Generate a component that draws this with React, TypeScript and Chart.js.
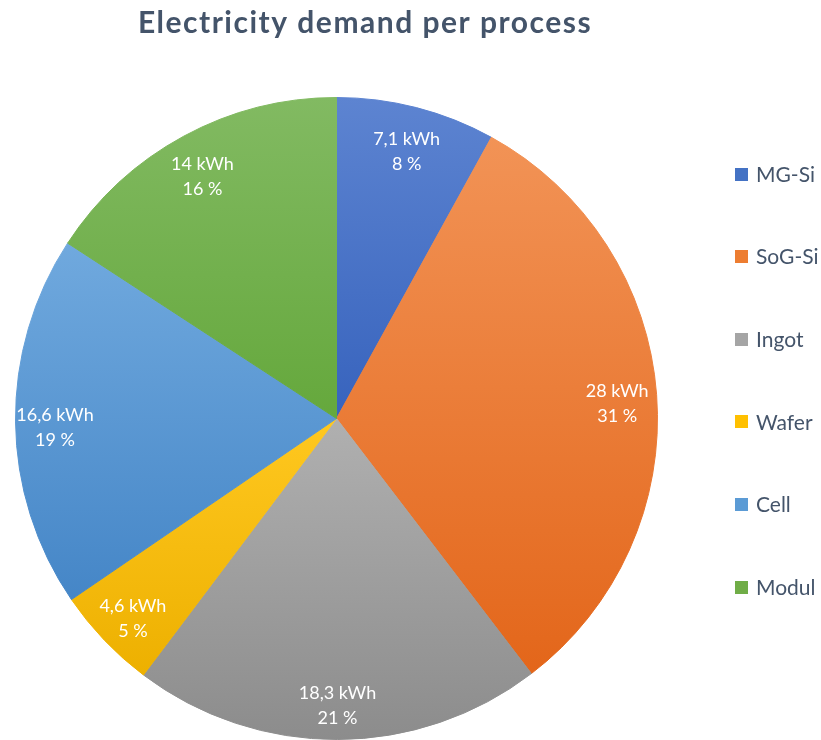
import React, { useEffect, useRef } from "react";
import { Chart, registerables } from "chart.js";

Chart.register(...registerables);

const TITLE = "Electricity demand per process";
const categories = ["MG-Si", "SoG-Si", "Ingot", "Wafer", "Cell", "Modul"];
const energyKWh = [7.1, 28, 18.3, 4.6, 16.6, 14];
const percentShares = [8, 31, 21, 5, 19, 16];

const baseColors = ["#4472C4", "#ED7D31", "#A5A5A5", "#FFC000", "#5B9BD5", "#70AD47"];
const topColors = ["#5D84D1", "#F29356", "#B0B0B0", "#FFC820", "#70A9DE", "#82BA62"];
const bottomColors = ["#3763BD", "#E3661A", "#8C8C8C", "#EDB000", "#4586C7", "#65A83C"];

const TEXT_COLOR = "#44546A";
const FONT = "Lato, 'Open Sans', 'DejaVu Sans', sans-serif";

const fmtKWh = (v: number) => String(v).replace(".", ",") + " kWh";

function sliceGradient(ctx: any) {
  const i = ctx.dataIndex;
  if (i === undefined || i === null) return baseColors[0];
  const chart = ctx.chart;
  const area = chart.chartArea;
  if (!area) return baseColors[i];
  const cx = (area.left + area.right) / 2;
  const cy = (area.top + area.bottom) / 2;
  const r = Math.min(area.width, area.height) / 2;
  const total = energyKWh.reduce((a, b) => a + b, 0);
  let before = 0;
  for (let j = 0; j < i; j++) before += energyKWh[j];
  const a0 = -Math.PI / 2 + (2 * Math.PI * before) / total;
  const a1 = a0 + (2 * Math.PI * energyKWh[i]) / total;
  const ys = [cy, cy + r * Math.sin(a0), cy + r * Math.sin(a1)];
  for (let k = -1; k <= 2; k++) {
    const t = -Math.PI / 2 + 2 * Math.PI * k;
    if (t >= a0 && t <= a1) ys.push(cy - r);
    const b = Math.PI / 2 + 2 * Math.PI * k;
    if (b >= a0 && b <= a1) ys.push(cy + r);
  }
  const y0 = Math.min(...ys);
  const y1 = Math.max(...ys);
  const g = chart.ctx.createLinearGradient(0, y0, 0, y1 + 0.01);
  g.addColorStop(0, topColors[i]);
  g.addColorStop(1, bottomColors[i]);
  return g;
}

const overlayPlugin = {
  id: "overlay",
  afterDatasetsDraw(chart: any) {
    const ctx = chart.ctx;
    const meta = chart.getDatasetMeta(0);
    ctx.save();
    ctx.fillStyle = "#FFFFFF";
    ctx.font = `18px ${FONT}`;
    ctx.textAlign = "center";
    ctx.textBaseline = "middle";
    meta.data.forEach((arc: any, i: number) => {
      const p = arc.getProps(["x", "y", "startAngle", "endAngle", "outerRadius"], true);
      const mid = (p.startAngle + p.endAngle) / 2;
      const l1 = fmtKWh(energyKWh[i]);
      const l2 = percentShares[i] + " %";
      const d = p.outerRadius * 0.877;
      const x = p.x + Math.cos(mid) * d;
      const y = p.y + Math.sin(mid) * d + 6;
      ctx.fillText(l1, x, y - 12.5);
      ctx.fillText(l2, x, y + 12.5);
    });
    ctx.restore();
  },
  afterDraw(chart: any) {
    const ctx = chart.ctx;
    ctx.save();
    // title
    ctx.fillStyle = TEXT_COLOR;
    ctx.font = `bold 30px ${FONT}`;
    try { (ctx as any).letterSpacing = "1.5px"; } catch (e) {}
    ctx.textAlign = "center";
    ctx.textBaseline = "alphabetic";
    ctx.fillText(TITLE, 365, 33);
    try { (ctx as any).letterSpacing = "0px"; } catch (e) {}
    // legend
    ctx.font = `21px ${FONT}`;
    ctx.textAlign = "left";
    ctx.textBaseline = "middle";
    categories.forEach((c, i) => {
      const yc = 174 + i * 82.6;
      ctx.fillStyle = baseColors[i];
      ctx.fillRect(735, Math.round(yc - 6.5), 13, 13);
      ctx.fillStyle = TEXT_COLOR;
      ctx.fillText(c, 756, yc + 1);
    });
    ctx.restore();
  },
};

export default function App() {
  const ref = useRef<HTMLCanvasElement | null>(null);
  useEffect(() => {
    if (!ref.current) return;
    const chart = new Chart(ref.current, {
      type: "pie",
      data: {
        labels: categories,
        datasets: [
          {
            data: energyKWh,
            backgroundColor: sliceGradient as any,
            borderColor: sliceGradient as any,
            borderWidth: 1,
          },
        ],
      },
      options: {
        responsive: false,
        animation: false,
        devicePixelRatio: 1,
        events: [],
        layout: { padding: { left: 15, right: 163, top: 97, bottom: 0 } },
        plugins: {
          legend: { display: false },
          title: { display: false },
          tooltip: { enabled: false },
        },
      },
      plugins: [overlayPlugin],
    });
    return () => chart.destroy();
  }, []);
  return (
    <div style={{ position: "absolute", left: 0, top: 0, width: 821, height: 740, background: "#fff" }}>
      <canvas ref={ref} width={821} height={740} style={{ display: "block", width: 821, height: 740 }} />
    </div>
  );
}
